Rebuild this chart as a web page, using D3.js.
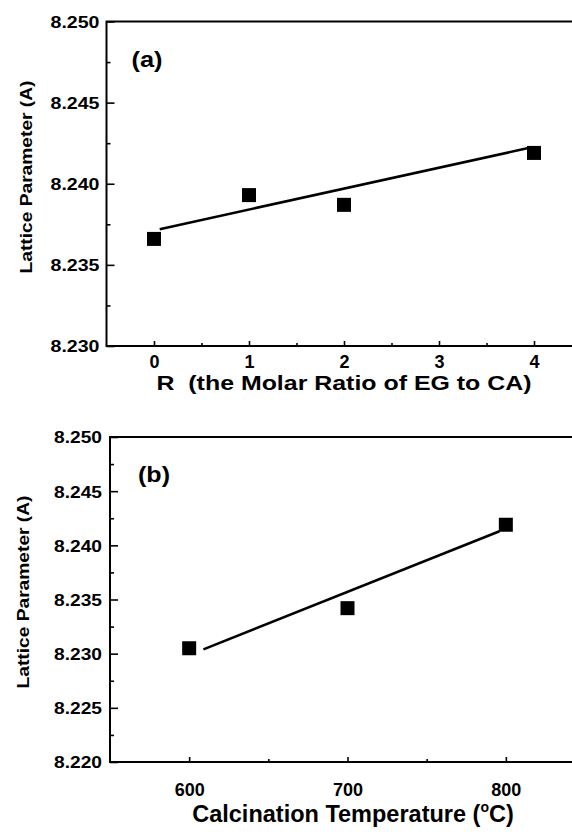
<!DOCTYPE html>
<html><head><meta charset="utf-8">
<script src="https://cdn.jsdelivr.net/npm/d3@7"></script>
<style>
html,body{margin:0;padding:0;background:#fff;}
svg{display:block;font-family:"Liberation Sans",Arial,Helvetica,sans-serif;font-weight:bold;}
</style></head>
<body>
<svg id="chart" width="572" height="834"></svg>
<script>
// Panel (a)
const ratioR = [0, 1, 2, 4];
const latticeA = [8.2366, 8.2393, 8.2387, 8.2419];
const fitLineAx = [0.06, 3.94];
const fitLineAy = [8.2372, 8.2422];
const xTicksA = [0, 1, 2, 3, 4];
const yTicksA = [8.230, 8.235, 8.240, 8.245, 8.250];

// Panel (b)
const calcTemp = [600, 700, 800];
const latticeB = [8.2305, 8.2342, 8.2419];
const fitLineBx = [609, 796];
const fitLineBy = [8.2304, 8.2413];
const xTicksB = [600, 700, 800];
const yTicksB = [8.220, 8.225, 8.230, 8.235, 8.240, 8.245, 8.250];

const svg = d3.select("#chart");
const FF = "Liberation Sans, Arial, sans-serif";

function panel(cfg) {
  const g = svg.append("g");
  const x = d3.scaleLinear().domain(cfg.xDomain).range(cfg.xRange);
  const y = d3.scaleLinear().domain(cfg.yDomain).range(cfg.yRange);
  const [x0, x1] = cfg.xRange, [y0, y1] = cfg.yRange;

  // frame
  g.append("rect").attr("x", x0).attr("y", y1).attr("width", x1 - x0).attr("height", y0 - y1)
    .attr("fill", "none").attr("stroke", "#000").attr("stroke-width", 2);

  // x axis (ticks inward)
  const xAxis = d3.axisBottom(x).tickValues(cfg.xTicks).tickSizeInner(-5).tickSizeOuter(0)
    .tickPadding(cfg.xPad).tickFormat(d3.format("d"));
  const gx = g.append("g").attr("transform", `translate(0,${y0})`).call(xAxis);
  gx.select(".domain").remove();
  gx.selectAll(".tick line").attr("stroke", "#000").attr("stroke-width", 1.6);
  gx.selectAll(".tick text").attr("fill", "#000").attr("font-size", 18).attr("font-weight", "bold")
    .attr("font-family", FF);
  const xAxisMinor = d3.axisBottom(x).tickValues(cfg.xMinor).tickSizeInner(-3).tickSizeOuter(0).tickFormat("");
  const gxm = g.append("g").attr("transform", `translate(0,${y0})`).call(xAxisMinor);
  gxm.select(".domain").remove();
  gxm.selectAll(".tick line").attr("stroke", "#000").attr("stroke-width", 1.6);

  // y axis (ticks inward)
  const yAxis = d3.axisLeft(y).tickValues(cfg.yTicks).tickSizeInner(-8).tickSizeOuter(0)
    .tickPadding(cfg.yPad).tickFormat(d3.format(".3f"));
  const gy = g.append("g").attr("transform", `translate(${x0},0)`).call(yAxis);
  gy.select(".domain").remove();
  gy.selectAll(".tick line").attr("stroke", "#000").attr("stroke-width", 1.6);
  gy.selectAll(".tick text").attr("fill", "#000").attr("font-size", 17).attr("font-weight", "bold")
    .attr("font-family", FF).attr("dy", "0.35em")
    .attr("textLength", cfg.yLabW).attr("lengthAdjust", "spacingAndGlyphs");
  const yAxisMinor = d3.axisLeft(y).tickValues(cfg.yMinor).tickSizeInner(-4).tickSizeOuter(0).tickFormat("");
  const gym = g.append("g").attr("transform", `translate(${x0},0)`).call(yAxisMinor);
  gym.select(".domain").remove();
  gym.selectAll(".tick line").attr("stroke", "#000").attr("stroke-width", 1.6);

  // fit line
  g.append("line")
    .attr("x1", x(cfg.fitX[0])).attr("y1", y(cfg.fitY[0]))
    .attr("x2", x(cfg.fitX[1])).attr("y2", y(cfg.fitY[1]))
    .attr("stroke", "#000").attr("stroke-width", 2.6);

  // points
  const s = 14;
  g.selectAll("rect.pt").data(cfg.xs.map((d, i) => [d, cfg.ys[i]])).join("rect")
    .attr("class", "pt")
    .attr("x", d => x(d[0]) - s / 2).attr("y", d => y(d[1]) - s / 2)
    .attr("width", s).attr("height", s).attr("fill", "#000");

  // panel label
  g.append("text").attr("x", cfg.labelPos[0]).attr("y", cfg.labelPos[1])
    .attr("font-size", 22).attr("fill", "#000")
    .attr("textLength", cfg.labelW).attr("lengthAdjust", "spacingAndGlyphs").text(cfg.label);

  // y title
  g.append("text")
    .attr("transform", `translate(${cfg.yTitlePos[0]},${cfg.yTitlePos[1]}) rotate(-90)`)
    .attr("text-anchor", "middle").attr("font-size", 17).attr("fill", "#000")
    .attr("textLength", 193).attr("lengthAdjust", "spacingAndGlyphs")
    .text("Lattice Parameter (A)");
  return g;
}

panel({
  xDomain: [-0.5, 4.5], xRange: [106.5, 581.5],
  yDomain: [8.230, 8.250], yRange: [346, 21.5],
  xTicks: xTicksA, xMinor: [0.5, 1.5, 2.5, 3.5], xPad: 9,
  yTicks: yTicksA, yMinor: [8.2325, 8.2375, 8.2425, 8.2475], yPad: 7, yLabW: 49,
  xs: ratioR, ys: latticeA, fitX: fitLineAx, fitY: fitLineAy,
  label: "(a)", labelPos: [131.5, 66.5], labelW: 31, yTitlePos: [32, 177]
});

panel({
  xDomain: [550, 850], xRange: [110, 585],
  yDomain: [8.220, 8.250], yRange: [762, 437],
  xTicks: xTicksB, xMinor: [650, 750], xPad: 21,
  yTicks: yTicksB, yMinor: [8.2225, 8.2275, 8.2325, 8.2375, 8.2425, 8.2475], yPad: 8, yLabW: 48,
  xs: calcTemp, ys: latticeB, fitX: fitLineBx, fitY: fitLineBy,
  label: "(b)", labelPos: [138, 482], labelW: 32, yTitlePos: [28.5, 592]
});

// x titles
svg.append("text").attr("x", 344).attr("y", 389.5).attr("text-anchor", "middle")
  .attr("font-size", 19.5).attr("fill", "#000").attr("xml:space", "preserve")
  .attr("textLength", 375).attr("lengthAdjust", "spacingAndGlyphs")
  .text("R  (the Molar Ratio of EG to CA)");

const t2 = svg.append("text").attr("x", 353).attr("y", 822).attr("text-anchor", "middle")
  .attr("font-size", 23.5).attr("fill", "#000");
t2.append("tspan").text("Calcination Temperature (");
t2.append("tspan").attr("font-size", 14).attr("dy", -10).text("o");
t2.append("tspan").attr("dy", 10).text("C)");
</script>
</body></html>
